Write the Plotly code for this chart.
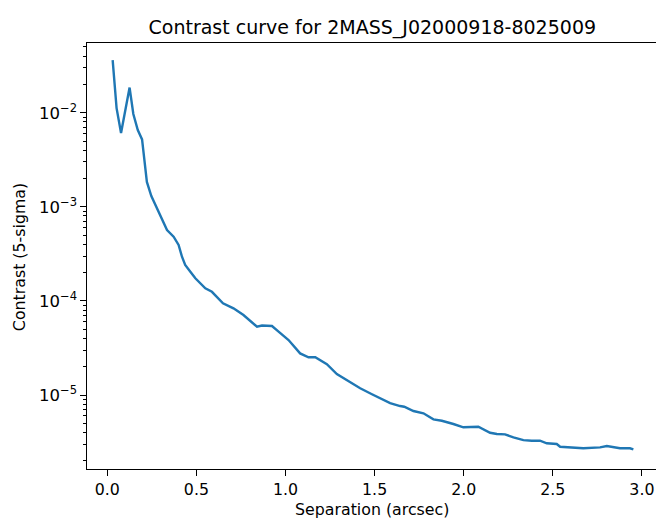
import plotly.graph_objects as go

separation = [0.030, 0.052, 0.077, 0.101, 0.125, 0.146, 0.171, 0.195, 0.222, 0.247,
              0.282, 0.307, 0.335, 0.372, 0.400, 0.419, 0.437, 0.466, 0.494, 0.550,
              0.587, 0.649, 0.708, 0.764, 0.840, 0.868, 0.924, 0.961, 1.017, 1.082,
              1.129, 1.167, 1.232, 1.288, 1.344, 1.419, 1.485, 1.541, 1.587, 1.643,
              1.666, 1.718, 1.774, 1.830, 1.877, 1.942, 1.998, 2.082, 2.148, 2.186,
              2.232, 2.279, 2.335, 2.382, 2.428, 2.466, 2.522, 2.541, 2.615, 2.671,
              2.765, 2.803, 2.877, 2.933, 2.952]
contrast = [3.63e-2, 1.12e-2, 6.08e-3, 1.07e-2, 1.85e-2, 9.7e-3, 6.55e-3, 5.21e-3, 1.84e-3, 1.30e-3,
            9.25e-4, 7.24e-4, 5.67e-4, 4.81e-4, 3.93e-4, 2.95e-4, 2.41e-4, 2.04e-4, 1.74e-4, 1.36e-4,
            1.25e-4, 9.42e-5, 8.34e-5, 7.08e-5, 5.32e-5, 5.48e-5, 5.41e-5, 4.71e-5, 3.84e-5, 2.77e-5,
            2.52e-5, 2.52e-5, 2.13e-5, 1.67e-5, 1.44e-5, 1.18e-5, 1.02e-5, 9.06e-6, 8.22e-6, 7.64e-6,
            7.51e-6, 6.76e-6, 6.39e-6, 5.52e-6, 5.33e-6, 4.92e-6, 4.54e-6, 4.61e-6, 3.97e-6, 3.85e-6,
            3.82e-6, 3.55e-6, 3.32e-6, 3.27e-6, 3.27e-6, 3.07e-6, 3.02e-6, 2.82e-6, 2.78e-6, 2.72e-6,
            2.78e-6, 2.87e-6, 2.72e-6, 2.72e-6, 2.65e-6]

x_ticks = [0.0, 0.5, 1.0, 1.5, 2.0, 2.5, 3.0]
x_tick_labels = ["0.0", "0.5", "1.0", "1.5", "2.0", "2.5", "3.0"]
y_ticks = [1e-5, 1e-4, 1e-3, 1e-2]
y_tick_labels = ["10<sup>−5</sup>", "10<sup>−4</sup>", "10<sup>−3</sup>", "10<sup>−2</sup>"]

title_text = "Contrast curve for 2MASS_J02000918-8025009"
x_label = "Separation (arcsec)"
y_label = "Contrast (5-sigma)"

minor_vals = []
for e in range(-6, -1):
    for m in range(2, 10):
        minor_vals.append(m * 10 ** e)

font = "DejaVu Sans"
fs = 15.8

W, H = 656, 519
ml, mt, mb = 87, 43, 50
pw, ph = W - ml, H - mt - mb

fig = go.Figure()
fig.add_trace(go.Scatter(x=separation, y=contrast, mode="lines",
                         line=dict(color="#1f77b4", width=2.4), showlegend=False))

fig.update_layout(
    width=W, height=H,
    margin=dict(l=ml, r=0, t=mt, b=mb, pad=0),
    paper_bgcolor="white", plot_bgcolor="white",
    font=dict(family=font, size=fs, color="black"),
    title=dict(text=title_text, x=(372 - 86.7) / pw, xref="paper", xanchor="center",
               y=1 - 27 / H, yref="container", yanchor="middle",
               font=dict(family=font, size=19, color="black")),
)
fig.update_xaxes(
    range=[-0.114, 3.079], tickvals=x_ticks, ticktext=x_tick_labels,
    ticks="outside", ticklen=5.5, tickwidth=1.2, tickcolor="black",
    showline=True, linecolor="black", linewidth=1.2, mirror=True,
    showgrid=False, zeroline=False,
    tickfont=dict(family=font, size=fs, color="black"),
)
fig.update_yaxes(
    type="log", range=[-5.786, -1.259], tickvals=y_ticks, ticktext=y_tick_labels,
    ticks="outside", ticklen=5.5, tickwidth=1.2, tickcolor="black",
    showline=True, linecolor="black", linewidth=1.2, mirror=False,
    showgrid=False, zeroline=False,
    tickfont=dict(family=font, size=16.5, color="black"),
    minor=dict(tickvals=minor_vals, ticks="outside", ticklen=3.2, tickwidth=0.9,
               tickcolor="black", showgrid=False),
)
fig.add_annotation(text=x_label, xref="paper", yref="paper", x=(372 - 86.7) / pw,
                   y=-40 / ph, xanchor="center", yanchor="middle",
                   showarrow=False, font=dict(family=font, size=fs, color="black"))
fig.add_annotation(text=y_label, xref="paper", yref="paper", x=(20 - 86.7) / pw,
                   y=0.498, xanchor="center", yanchor="middle", textangle=-90,
                   showarrow=False, font=dict(family=font, size=fs, color="black"))

fig.write_html("out.html", config={"displayModeBar": False},
               post_script="document.body.style.margin='0';")
